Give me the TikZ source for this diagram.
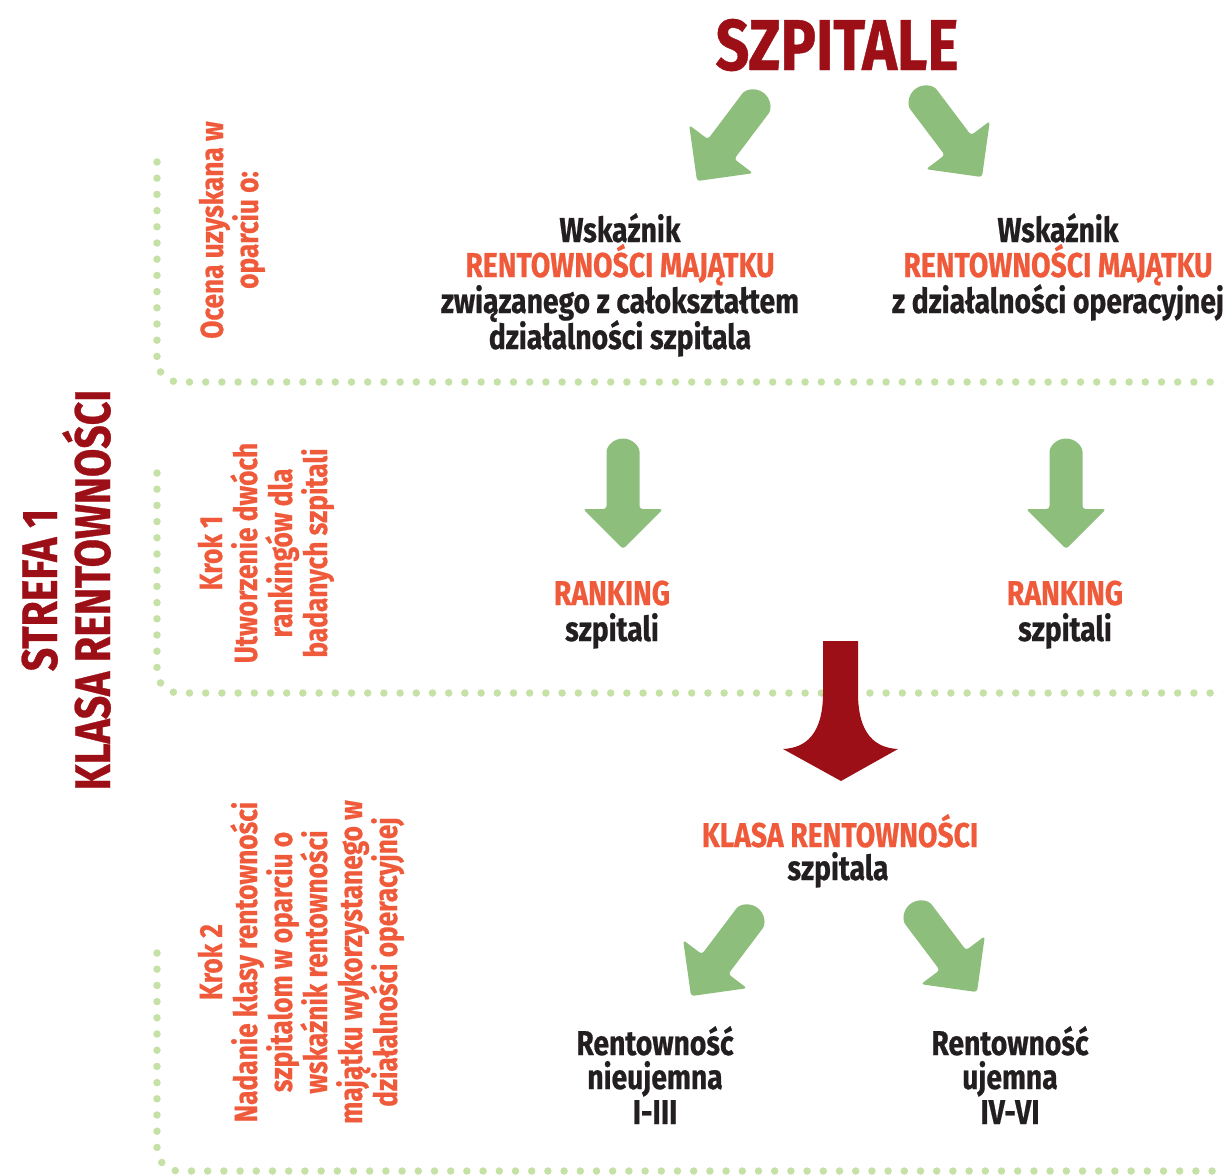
\documentclass[tikz,border=0pt]{standalone}
\usepackage{fontspec}
\setmainfont{Fira Sans}[FakeStretch=0.82,FakeBold=0.6]
\definecolor{ink}{HTML}{231F20}
\definecolor{orng}{HTML}{EF5A3B}
\definecolor{dred}{HTML}{9C0F16}
\definecolor{garr}{HTML}{8EBE7C}
\definecolor{gdot}{HTML}{C5E1A5}
\newcommand\fmid{\fontsize{34.5}{36}\selectfont\bfseries}
\newcommand\fsml{\fontsize{32}{35}\selectfont\bfseries}
\newcommand\fbig{\fontsize{50}{52}\selectfont\bfseries}
\newcommand\fhuge{\fontsize{72}{74}\selectfont\bfseries}
\tikzset{
  lbl/.style={inner sep=0pt, anchor=base, font=\fmid},
  blk/.style={lbl, text=ink},
  hl/.style={lbl, text=orng},
  rot/.style={lbl, text=orng, font=\fsml, rotate=90},
  zone/.style={lbl, text=dred, font=\fbig, rotate=90},
  dotline/.style={draw=gdot, line width=7.5pt, line cap=round, dash pattern=on 0pt off 16.2pt, rounded corners=22pt},
  garrow/.pic={\fill[garr, rounded corners=3pt] (0,16.5) arc[start angle=90, end angle=270, radius=16.5] -- (54,-16.5) -- (54,-40) -- (94,0) -- (54,40) -- (54,16.5) -- cycle;}
}
\begin{document}
\begin{tikzpicture}[x=1pt,y=-1pt]
\useasboundingbox (0,0) rectangle (1223,1175);
% dotted separators
\draw[dotline] (157,162) -- (157,382) -- (1240,382);
\draw[dotline] (157,473) -- (157,693) -- (1240,693);
\draw[dotline] (157,953) -- (157,1171) -- (1240,1171);
% title
\node[lbl, text=dred, font=\fhuge] (title) at (837,70) {SZPITALE};
% arrow anchors
\coordinate (a1) at (753.6,106);
\coordinate (a2) at (925.4,102);
\coordinate (a3) at (623,455);
\coordinate (a4) at (1066,455);
\coordinate (a5) at (747.6,921);
\coordinate (a6) at (920.4,917);
\pic[rotate=-127] at (a1) {garrow};
\pic[rotate=-53] at (a2) {garrow};
\pic[rotate=-90] at (a3) {garrow};
\pic[rotate=-90] at (a4) {garrow};
\pic[rotate=-127] at (a5) {garrow};
\pic[rotate=-53] at (a6) {garrow};
% left indicator
\node[blk] (l1) at (620,242) {Wskaźnik};
\node[hl]  (l2) at (620,277) {RENTOWNOŚCI MAJĄTKU};
\node[blk] (l3) at (620,313) {związanego z całokształtem};
\node[blk] (l4) at (620,349) {działalności szpitala};
% right indicator
\node[blk] (r1) at (1058,242) {Wskaźnik};
\node[hl]  (r2) at (1058,277) {RENTOWNOŚCI MAJĄTKU};
\node[blk] (r3) at (1058,313) {z działalności operacyjnej};
% rankings
\node[hl]  (k1) at (612,605) {RANKING};
\node[blk] (k2) at (612,641) {szpitali};
\node[hl]  (k3) at (1065,605) {RANKING};
\node[blk] (k4) at (1065,641) {szpitali};
% big red arrow
\fill[dred] (823,641) -- (823,693) .. controls (823,735) and (805,748) .. (783,749)
  -- (841,781) -- (898,749) .. controls (876,748) and (858,735) .. (858,693) -- (858,641) -- cycle;
% class
\node[hl]  (c1) at (840,847) {KLASA RENTOWNOŚCI};
\node[blk] (c2) at (838,880) {szpitala};
% outcomes
\node[blk] (n1) at (655,1055) {Rentowność};
\node[blk] (n2) at (655,1089) {nieujemna};
\node[blk] (n3) at (655,1124) {I-III};
\node[blk] (u1) at (1010,1055) {Rentowność};
\node[blk] (u2) at (1010,1089) {ujemna};
\node[blk] (u3) at (1010,1124) {IV-VI};
% rotated side texts
\node[zone] (s1) at (57,590) {STREFA 1};
\node[zone] (s2) at (110,590) {KLASA RENTOWNOŚCI};
\node[rot] (o1) at (223,230) {Ocena uzyskana w};
\node[rot] (o2) at (258,230) {oparciu o:};
\node[rot] (p1) at (222,553) {Krok 1};
\node[rot] (p2) at (257,553) {Utworzenie dwóch};
\node[rot] (p3) at (292,553) {rankingów dla};
\node[rot] (p4) at (327,553) {badanych szpitali};
\node[rot] (q1) at (222,962) {Krok 2};
\node[rot] (q2) at (257,962) {Nadanie klasy rentowności};
\node[rot] (q3) at (292,962) {szpitalom w oparciu o};
\node[rot] (q4) at (327,962) {wskaźnik rentowności};
\node[rot] (q5) at (362,962) {majątku wykorzystanego w};
\node[rot] (q6) at (397,962) {działalności operacyjnej};
\end{tikzpicture}
\end{document}
